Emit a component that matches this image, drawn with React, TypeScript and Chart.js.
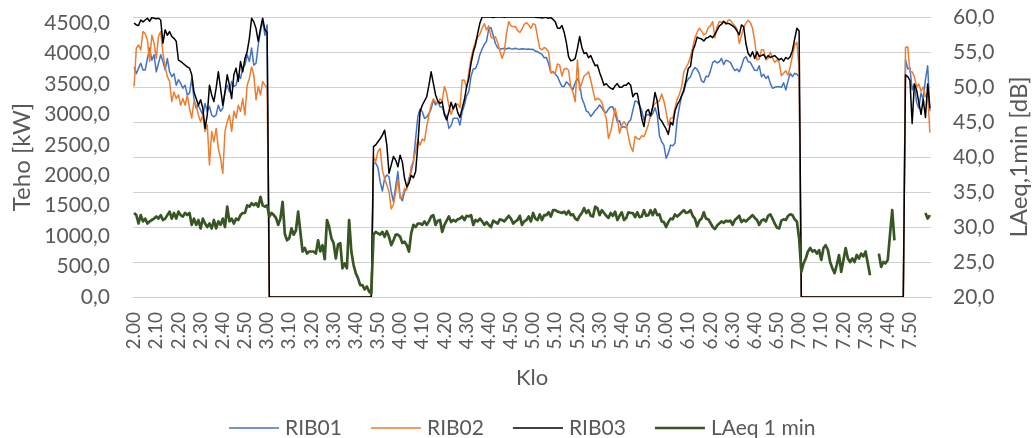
import { useEffect, useRef } from "react";
import { Chart, registerables } from "chart.js";

Chart.register(...registerables);

// Categories: one per minute, 2.00 ... 7.59
const START_HOUR = 2;
const MINUTE_COUNT = 360;
const TIME_LABELS: string[] = [];
for (let i = 0; i < MINUTE_COUNT; i++) {
  const h = START_HOUR + Math.floor(i / 60);
  const m = i % 60;
  TIME_LABELS.push(`${h}.${String(m).padStart(2, "0")}`);
}

const SERIES_NAMES = ["RIB01", "RIB02", "RIB03", "LAeq 1 min"];
const Y_TITLE = "Teho [kW]";
const Y1_TITLE = "LAeq,1min [dB]";
const X_TITLE = "Klo";

// Left axis tick values [kW] and right axis tick values [dB]
const Y_TICKS = [0, 500, 1000, 1500, 2000, 2500, 3000, 3500, 4000, 4500];
const Y1_MAJOR = [20, 25, 30, 35, 40, 45, 50, 55, 60];
const Y1_MINOR_STEP = 1;

// RIB01 [kW]
const RIB01 = [
  3780, 3670, 3760, 3840, 3730, 3730, 3920, 4090, 3890, 3980,
  3700, 3840, 3980, 3870, 3730, 3920, 3700, 3620, 3670, 3480,
  3570, 3510, 3430, 3480, 3320, 3350, 3590, 3260, 3100, 3150,
  3070, 2990, 3180, 3050, 3130, 2990, 2960, 2990, 3150, 3050,
  3100, 3370, 3480, 3370, 3540, 3460, 3480, 3650, 3590, 3760,
  3810, 3980, 3870, 4090, 3810, 3840, 4140, 4360, 4550, 4300,
  4470, 0, 0, 0, 0, 0, 0, 0, 0, 0,
  0, 0, 0, 0, 0, 0, 0, 0, 0, 0,
  0, 0, 0, 0, 0, 0, 0, 0, 0, 0,
  0, 0, 0, 0, 0, 0, 0, 0, 0, 0,
  0, 0, 0, 0, 0, 0, 0, 0, 2200, 2200,
  2125, 1895, 1740, 1950, 2005, 1975, 1730, 1565, 1815, 2060,
  1650, 1580, 1730, 1785, 1950, 2060, 2225, 2605, 2965, 3090,
  3045, 2935, 2955, 3015, 3090, 3235, 3155, 3220, 3125, 3120,
  3015, 2965, 2770, 2815, 2935, 2935, 2935, 2825, 3045, 3155,
  3305, 3375, 3625, 3745, 3755, 3840, 3985, 4075, 4150, 4205,
  4405, 4425, 4295, 4165, 4095, 4070, 4080, 4085, 4075, 4090,
  4080, 4075, 4085, 4075, 4070, 4080, 4075, 4070, 4075, 4065,
  4070, 4040, 4030, 4005, 3985, 3930, 3935, 3830, 3685, 3700,
  3665, 3620, 3535, 3460, 3460, 3535, 3500, 3450, 3410, 3525,
  3585, 3505, 3265, 3175, 3055, 3035, 2965, 3010, 3065, 3100,
  3155, 3110, 3045, 3030, 3090, 3125, 3120, 3010, 2880, 2895,
  2785, 2800, 2780, 2870, 2910, 3070, 3220, 3210, 3145, 3065,
  2910, 2990, 3000, 2965, 3015, 3110, 2990, 2650, 2550, 2495,
  2280, 2360, 2495, 2485, 2525, 2910, 3125, 3305, 3375, 3520,
  3580, 3620, 3715, 3770, 3740, 3670, 3550, 3525, 3625, 3620,
  3715, 3850, 3880, 3845, 3865, 3920, 3820, 3890, 3875, 3855,
  3780, 3720, 3745, 3700, 3785, 3910, 3950, 3865, 3855, 3785,
  3725, 3720, 3800, 3620, 3660, 3590, 3630, 3510, 3430, 3445,
  3455, 3455, 3445, 3520, 3400, 3550, 3675, 3620, 3675, 3660,
  3620, 0, 0, 0, 0, 0, 0, 0, 0, 0,
  0, 0, 0, 0, 0, 0, 0, 0, 0, 0,
  0, 0, 0, 0, 0, 0, 0, 0, 0, 0,
  0, 0, 0, 0, 0, 0, 0, 0, 0, 0,
  0, 0, 0, 0, 0, 0, 0, 0, 3900, 3750,
  3760, 3400, 3500, 3200, 3100, 3350, 3250, 3570, 3800, 3050,
];

// RIB02 [kW]
const RIB02 = [
  3460, 4090, 4140, 4060, 4360, 4330, 4220, 3870, 4300, 4170,
  3920, 4280, 4360, 4000, 3780, 3620, 3540, 3210, 3370, 3260,
  3320, 3150, 3260, 3150, 3320, 3100, 2940, 3210, 3150, 2990,
  2880, 2990, 2720, 2830, 2170, 2720, 2550, 2770, 2440, 2280,
  2030, 2720, 2880, 2990, 2720, 3050, 2940, 3150, 3050, 3260,
  2990, 3480, 3590, 3780, 3650, 3240, 3460, 3320, 3540, 3480,
  3430, 0, 0, 0, 0, 0, 0, 0, 0, 0,
  0, 0, 0, 0, 0, 0, 0, 0, 0, 0,
  0, 0, 0, 0, 0, 0, 0, 0, 0, 0,
  0, 0, 0, 0, 0, 0, 0, 0, 0, 0,
  0, 0, 0, 0, 0, 0, 0, 0, 2300, 2225,
  2390, 2440, 2085, 1950, 1840, 1730, 1445, 1520, 1720, 1920,
  1620, 1650, 1785, 1760, 1895, 2140, 2235, 2400, 2580, 2495,
  2595, 2565, 2800, 2990, 3155, 3255, 3200, 3175, 3255, 3220,
  3460, 3345, 3145, 3000, 3110, 3155, 3170, 3110, 3565, 3560,
  3440, 3700, 3920, 4070, 4195, 4265, 4320, 4415, 4490, 4385,
  4455, 4275, 4250, 4275, 4180, 4040, 3920, 4030, 4330, 4525,
  4455, 4440, 4445, 4375, 4345, 4405, 4480, 4510, 4470, 4415,
  4490, 4470, 4275, 4085, 4060, 4100, 4075, 4030, 3690, 3685,
  3680, 3830, 3810, 3630, 3745, 3755, 3725, 3450, 3360, 3210,
  3895, 3400, 3525, 3630, 3660, 3700, 3565, 3395, 3235, 3265,
  3245, 3200, 3065, 2935, 2605, 2715, 2910, 3100, 2945, 2690,
  2825, 2880, 2825, 2640, 2470, 2390, 2635, 2605, 2590, 2650,
  2635, 2725, 2835, 2980, 3125, 3180, 3200, 3220, 3335, 3220,
  3045, 2825, 2935, 2935, 3100, 3255, 3330, 3455, 3700, 3770,
  3840, 3950, 4095, 4260, 4350, 4415, 4370, 4305, 4330, 4425,
  4455, 4525, 4260, 4440, 4525, 4510, 4535, 4480, 4550, 4550,
  4495, 4455, 4405, 4165, 4295, 4430, 4495, 4545, 4510, 4415,
  4195, 3895, 3910, 4060, 4060, 3895, 3920, 4020, 3930, 3855,
  3895, 3855, 3635, 3675, 3715, 3645, 3785, 3965, 4140, 4185,
  3755, 0, 0, 0, 0, 0, 0, 0, 0, 0,
  0, 0, 0, 0, 0, 0, 0, 0, 0, 0,
  0, 0, 0, 0, 0, 0, 0, 0, 0, 0,
  0, 0, 0, 0, 0, 0, 0, 0, 0, 0,
  0, 0, 0, 0, 0, 0, 0, 0, 4100, 4110,
  3700, 3700, 3620, 3450, 3500, 3380, 3450, 3290, 3330, 2700,
];

// RIB03 [kW]
const RIB03 = [
  4500, 4470, 4460, 4550, 4520, 4550, 4580, 4530, 4590, 4580,
  4570, 4580, 4550, 4170, 4390, 4300, 4360, 4280, 4250, 4200,
  3890, 3870, 3840, 3810, 3780, 3760, 3650, 3370, 3260, 3150,
  3240, 3100, 2770, 2990, 3480, 3320, 3210, 3430, 3700, 3430,
  3150, 3370, 3650, 3480, 3260, 3650, 3760, 3540, 3870, 3700,
  3920, 4030, 4250, 4580, 4520, 4410, 4200, 4410, 4580, 4390,
  4350, 0, 0, 0, 0, 0, 0, 0, 0, 0,
  0, 0, 0, 0, 0, 0, 0, 0, 0, 0,
  0, 0, 0, 0, 0, 0, 0, 0, 0, 0,
  0, 0, 0, 0, 0, 0, 0, 0, 0, 0,
  0, 0, 0, 0, 0, 0, 0, 0, 2470, 2500,
  2550, 2600, 2660, 2740, 2500, 2030, 2170, 2310, 2250, 2140,
  2330, 2220, 1950, 1810, 1870, 2000, 1960, 2060, 2500, 3045,
  3150, 3220, 3290, 3480, 3700, 3510, 3320, 3220, 3180, 3210,
  2990, 2910, 3045, 3200, 3090, 3180, 3030, 2950, 3100, 3240,
  3455, 3590, 3840, 4020, 4140, 4330, 4500, 4600, 4600, 4600,
  4600, 4600, 4590, 4600, 4600, 4600, 4600, 4595, 4600, 4600,
  4600, 4600, 4600, 4600, 4600, 4600, 4600, 4600, 4600, 4600,
  4600, 4595, 4590, 4590, 4585, 4590, 4590, 4580, 4590, 4560,
  4520, 4420, 4410, 4460, 4350, 4180, 3950, 3880, 3890, 3920,
  4085, 4280, 4100, 4000, 4015, 3930, 3965, 3880, 3800, 3810,
  3690, 3590, 3480, 3505, 3460, 3430, 3410, 3470, 3505, 3445,
  3445, 3480, 3480, 3520, 3480, 3290, 3345, 3345, 3155, 2935,
  2800, 3045, 3080, 2975, 3125, 3360, 3220, 2935, 2890, 2825,
  2760, 2670, 2870, 2825, 3055, 3155, 3220, 3305, 3405, 3565,
  3755, 3790, 4040, 4140, 4270, 4250, 4240, 4205, 4250, 4265,
  4290, 4260, 4315, 4385, 4455, 4480, 4525, 4495, 4495, 4480,
  4455, 4425, 4370, 4305, 4470, 4440, 4165, 4005, 3950, 4030,
  3920, 4030, 3950, 3965, 3985, 3920, 3965, 3935, 3950, 3965,
  3930, 3895, 3920, 3875, 3935, 3910, 3950, 4050, 4240, 4415,
  4370, 0, 0, 0, 0, 0, 0, 0, 0, 0,
  0, 0, 0, 0, 0, 0, 0, 0, 0, 0,
  0, 0, 0, 0, 0, 0, 0, 0, 0, 0,
  0, 0, 0, 0, 0, 0, 0, 0, 0, 0,
  0, 0, 0, 0, 0, 0, 0, 0, 3650, 3620,
  3560, 2850, 3500, 3400, 3200, 3000, 3250, 2950, 3500, 3100,
];

// LAeq 1 min [dB]
const LAEQ = [
  32.0, 31.7, 30.5, 31.7, 30.8, 31.2, 30.5, 30.8, 31.0, 31.2,
  31.5, 31.2, 31.7, 31.0, 31.2, 31.7, 32.2, 31.2, 32.0, 31.2,
  32.2, 31.7, 31.5, 32.0, 31.7, 32.0, 30.3, 31.2, 30.3, 31.0,
  29.8, 31.2, 30.5, 30.0, 30.5, 29.8, 31.0, 29.8, 30.8, 30.3,
  31.2, 30.0, 32.9, 30.8, 31.2, 30.5, 31.2, 31.0, 31.7, 32.0,
  32.0, 33.1, 32.9, 33.4, 33.1, 33.4, 32.9, 34.3, 33.1, 32.9,
  33.1, 31.5, 32.0, 31.7, 31.3, 30.3, 31.2, 33.6, 29.0, 28.1,
  28.4, 29.8, 28.9, 29.5, 32.2, 29.3, 26.5, 27.0, 26.2, 26.5,
  26.5, 26.5, 26.2, 28.1, 26.5, 27.4, 25.4, 31.0, 30.0, 28.4,
  27.7, 25.5, 27.5, 27.7, 24.1, 24.8, 24.1, 31.0, 26.5, 24.6,
  23.4, 22.7, 21.7, 21.7, 21.1, 21.5, 20.8, 20.5, 28.9, 29.3,
  29.1, 28.9, 29.3, 28.6, 29.4, 28.6, 27.4, 28.1, 28.9, 28.9,
  28.6, 27.7, 27.9, 27.4, 26.5, 29.1, 30.3, 30.0, 30.5, 30.5,
  30.3, 30.8, 30.3, 30.8, 31.5, 31.7, 30.3, 30.9, 31.0, 29.3,
  30.3, 30.9, 31.5, 30.7, 31.0, 30.8, 31.1, 31.2, 31.5, 31.0,
  31.6, 31.5, 31.7, 30.3, 31.0, 30.8, 31.2, 30.8, 30.3, 30.7,
  30.3, 30.0, 30.9, 30.7, 30.5, 31.1, 31.0, 30.8, 31.2, 31.6,
  31.2, 30.5, 30.8, 31.0, 31.6, 30.3, 30.8, 31.0, 31.5, 30.8,
  32.0, 31.2, 31.0, 31.8, 31.0, 31.7, 31.7, 32.1, 31.5, 32.4,
  32.4, 32.2, 32.1, 32.0, 32.2, 31.8, 32.3, 31.7, 31.8, 31.2,
  31.0, 31.6, 32.0, 32.7, 32.0, 32.4, 31.6, 31.5, 32.9, 32.7,
  31.7, 32.4, 32.0, 31.6, 31.3, 32.0, 31.6, 32.2, 31.0, 31.6,
  32.1, 31.0, 31.3, 32.1, 32.0, 32.0, 31.4, 32.1, 31.4, 31.5,
  32.4, 31.6, 31.7, 32.4, 31.7, 32.5, 31.7, 31.8, 30.8, 30.7,
  30.0, 30.7, 31.2, 31.1, 31.8, 31.5, 31.8, 32.1, 32.4, 32.0,
  32.1, 32.4, 31.6, 31.2, 30.1, 30.9, 31.2, 32.1, 31.2, 31.1,
  30.6, 30.0, 29.7, 30.2, 30.5, 30.8, 30.6, 30.9, 30.8, 30.9,
  30.3, 31.0, 31.3, 31.6, 30.7, 31.0, 30.8, 31.1, 31.4, 31.7,
  31.3, 31.0, 30.3, 30.9, 31.1, 30.8, 31.6, 31.8, 31.2, 30.5,
  29.9, 29.8, 30.9, 31.1, 31.0, 31.6, 31.8, 31.7, 31.1, 30.8,
  28.4, 23.6, 24.8, 25.5, 26.5, 27.0, 26.5, 26.7, 26.2, 26.7,
  25.3, 27.0, 27.4, 26.7, 25.0, 24.1, 23.4, 24.6, 26.0, 23.6,
  25.3, 27.0, 25.5, 25.0, 25.5, 25.0, 26.0, 25.5, 26.2, 25.8,
  26.5, 24.8, 23.1, null, null, null, 26.2, 24.3, 25.0, 24.8,
  25.3, 28.9, 32.4, 28.1, null, null, null, null, null, null,
  null, null, null, null, null, null, null, 32.0, 31.2, 31.7,
];

const COLORS = ["#4472C4", "#ED7D31", "#000000", "#375623"];
const WIDTHS = [1.5, 1.5, 1.5, 2.7];

const FONT = "Lato, 'Open Sans', sans-serif";
const TEXT = "#595959";
const fmt = (v: number) => v.toFixed(1).replace(".", ",");

const overlay = {
  id: "overlay",
  afterDraw(chart: any) {
    const ctx = chart.ctx as CanvasRenderingContext2D;
    const area = chart.chartArea;
    // right-axis title, reading bottom-to-top
    ctx.save();
    ctx.fillStyle = TEXT;
    ctx.font = `24px ${FONT}`;
    ctx.translate(1019, (area.top + area.bottom) / 2);
    ctx.rotate(-Math.PI / 2);
    ctx.textAlign = "center";
    ctx.textBaseline = "middle";
    ctx.fillText(Y1_TITLE, 0, 0);
    ctx.restore();

    // legend row
    ctx.save();
    ctx.font = `21px ${FONT}`;
    ctx.textBaseline = "middle";
    ctx.textAlign = "left";
    let x = 229;
    const y = 428;
    chart.data.datasets.forEach((ds: any) => {
      ctx.strokeStyle = ds.borderColor;
      ctx.lineWidth = ds.borderWidth;
      ctx.beginPath();
      ctx.moveTo(x, y);
      ctx.lineTo(x + 50, y);
      ctx.stroke();
      x += 56;
      ctx.fillStyle = TEXT;
      ctx.fillText(ds.label, x, y);
      x += ctx.measureText(ds.label).width + 29;
    });
    ctx.restore();
  },
};

const zeroPad = (scale: any) => {
  scale.paddingTop = 0;
  scale.paddingBottom = 0;
  scale.paddingLeft = 0;
  scale.paddingRight = 0;
};

export default function App() {
  const ref = useRef<HTMLCanvasElement | null>(null);

  useEffect(() => {
    if (!ref.current) return;
    const seriesData = [RIB01, RIB02, RIB03, LAEQ];
    const y1Ticks: number[] = [];
    for (let v = Y1_MAJOR[0]; v <= Y1_MAJOR[Y1_MAJOR.length - 1]; v += Y1_MINOR_STEP) y1Ticks.push(v);

    const chart = new Chart(ref.current, {
      type: "line",
      data: {
        labels: TIME_LABELS,
        datasets: seriesData.map((d, i) => ({
          label: SERIES_NAMES[i],
          data: d,
          borderColor: COLORS[i],
          backgroundColor: COLORS[i],
          borderWidth: WIDTHS[i],
          yAxisID: i === 3 ? "y1" : "y",
          order: 3 - i,
          pointRadius: 0,
          tension: 0,
          spanGaps: false,
          borderJoinStyle: "round" as const,
        })),
      },
      options: {
        responsive: false,
        animation: false,
        events: [],
        layout: { padding: { top: 17, left: 0, right: 0, bottom: 36 } },
        plugins: {
          legend: { display: false },
          tooltip: { enabled: false },
        },
        scales: {
          x: {
            type: "category",
            offset: true,
            grid: { display: false, drawTicks: false },
            border: { display: true, color: "#cccccc", width: 1 },
            ticks: {
              autoSkip: false,
              maxRotation: 90,
              minRotation: 90,
              padding: 15,
              color: TEXT,
              font: { family: FONT, size: 19 },
              callback: (_v: any, index: number) =>
                index % 10 === 0 ? TIME_LABELS[index] : null,
            },
            title: {
              display: true,
              text: X_TITLE,
              color: TEXT,
              font: { family: FONT, size: 22 },
              padding: { top: 0, bottom: 11 },
            },
            afterFit: (scale: any) => {
              scale.height = 105;
              zeroPad(scale);
            },
          },
          y: {
            position: "left",
            min: 0,
            max: 4600,
            grid: { display: false, drawTicks: false },
            border: { display: false },
            afterBuildTicks: (scale: any) => {
              scale.ticks = Y_TICKS.map((v) => ({ value: v }));
            },
            ticks: {
              autoSkip: false,
              padding: 23,
              color: TEXT,
              font: { family: FONT, size: 21 },
              callback: (v: any) => fmt(Number(v)),
            },
            title: {
              display: true,
              text: Y_TITLE,
              color: TEXT,
              font: { family: FONT, size: 24 },
              padding: { top: 8, bottom: 0 },
            },
            afterFit: (scale: any) => {
              scale.width = 133;
              zeroPad(scale);
            },
          },
          y1: {
            position: "right",
            min: 20,
            max: 60,
            grid: {
              drawTicks: false,
              lineWidth: 1,
              color: (c: any) =>
                c.tick && Y1_MAJOR.includes(Math.round(c.tick.value)) ? "#d0d0d0" : "#e4e4e4",
            },
            border: { display: false },
            afterBuildTicks: (scale: any) => {
              scale.ticks = y1Ticks.map((v) => ({ value: v }));
            },
            ticks: {
              autoSkip: false,
              padding: 22,
              color: TEXT,
              font: { family: FONT, size: 21 },
              callback: (v: any) =>
                Y1_MAJOR.includes(Math.round(Number(v))) ? fmt(Number(v)) : null,
            },
            afterFit: (scale: any) => {
              scale.width = 101;
              zeroPad(scale);
            },
          },
        },
      } as any,
      plugins: [overlay],
    });
    return () => chart.destroy();
  }, []);

  return (
    <canvas
      ref={ref}
      width={1032}
      height={438}
      style={{ position: "absolute", left: 0, top: 0, display: "block", background: "#ffffff" }}
    />
  );
}
